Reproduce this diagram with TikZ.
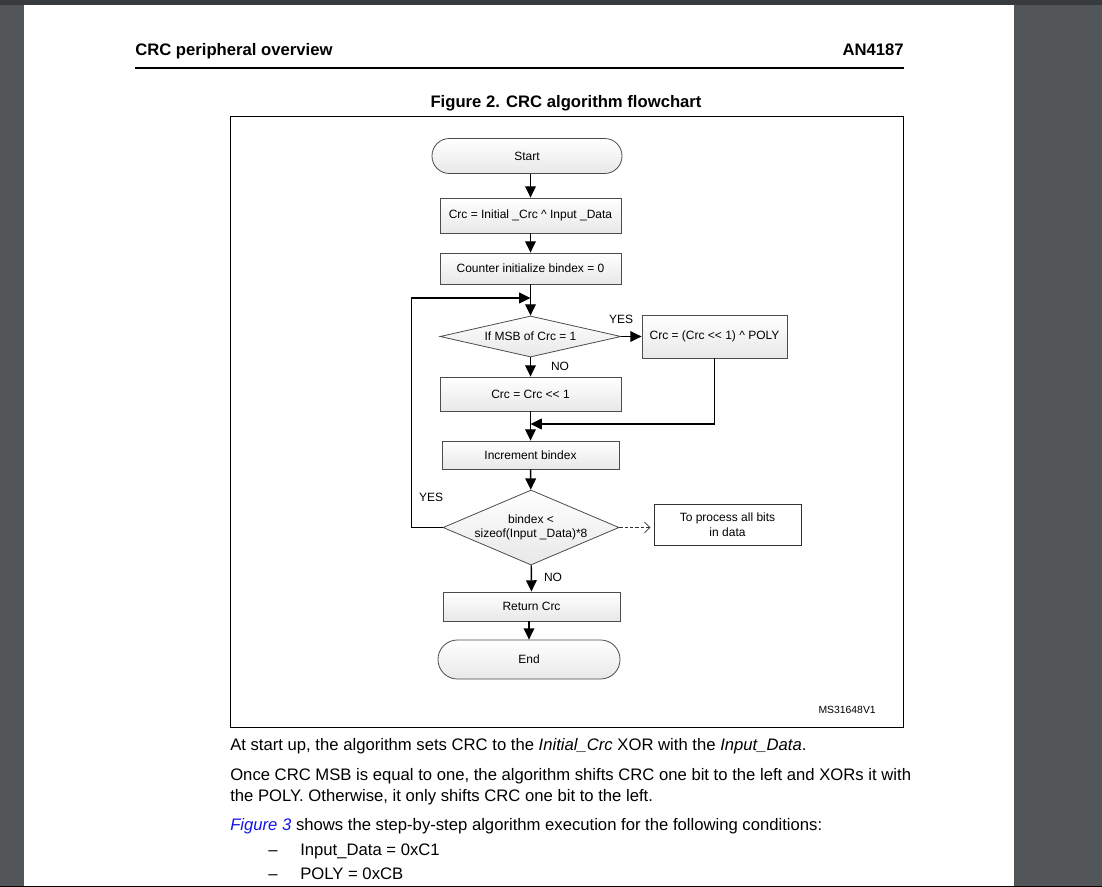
\documentclass[tikz,border=0pt]{standalone}
\usepackage{fontspec}
\setmainfont{Liberation Sans}
\usetikzlibrary{shapes.geometric,arrows.meta}
\definecolor{viewer}{RGB}{82,86,89}
\definecolor{viewertop}{RGB}{56,59,62}
\definecolor{stlink}{RGB}{20,20,235}
\tikzset{
  box/.style={draw=black!70, line width=0.6pt, top color=white, bottom color=black!9,
    inner sep=0pt, align=center, font=\fontsize{9}{11}\selectfont},
  term/.style={box, rounded corners=13pt},
  decision/.style={box, diamond, shape aspect=#1},
  note/.style={draw=black!80, line width=0.6pt, fill=white, inner sep=0pt, align=center,
    font=\fontsize{9}{11}\selectfont},
  lbl/.style={inner sep=0pt, font=\fontsize{9}{11}\selectfont},
  arr/.style={line width=1.1pt, -{Triangle[length=8.5pt,width=8pt]}},
  dasharr/.style={line width=0.6pt, dashed, dash pattern=on 2.5pt off 1.5pt, draw=black!80,
    -{Straight Barb[length=4pt,width=8pt]}},
  body/.style={inner sep=0pt, anchor=base west, font=\fontsize{12.5}{15}\selectfont},
  head/.style={inner sep=0pt, font=\fontsize{12.5}{15}\selectfont\bfseries}
}
\begin{document}
\begin{tikzpicture}[x=0.75pt,y=-0.75pt]
\useasboundingbox (0,0) rectangle (1102,887);
\fill[viewer] (0,0) rectangle (1102,887);
\fill[viewertop] (0,0) rectangle (1102,5);
\fill[white] (24,5) rectangle (1014,887);
\draw[black, line width=0.8pt] (0,886.5) -- (1102,886.5);

\node[head, anchor=base west] (hdl) at (135,56) {CRC peripheral overview};
\node[head, anchor=base east] (hdr) at (904,56) {AN4187};
\draw[line width=0.8pt] (135,68) -- (904,68);
\node[head, anchor=base] (title) at (566,108) {Figure 2. CRC algorithm flowchart};
\draw[line width=0.7pt] (230,116) rectangle (903,727);

\node[term, minimum width=142.5pt, minimum height=26.25pt] (start) at (527,156) {Start};
\node[box, minimum width=135.75pt, minimum height=26.25pt] (init) at (530.5,215.5) {Crc = Initial \_Crc \textasciicircum{} Input \_Data};
\node[box, minimum width=135.75pt, minimum height=23.25pt] (cnt) at (530.5,268.5) {Counter initialize bindex = 0};
\coordinate (join) at (530.5,298);
\node[decision=4.4, minimum width=135.75pt, minimum height=30.75pt] (msb) at (530.5,336.5) {If MSB of Crc = 1};
\node[box, minimum width=108.75pt, minimum height=32.25pt] (poly) at (714.5,336.5) {Crc = (Crc <{}< 1) \textasciicircum{} POLY};
\node[box, minimum width=135.75pt, minimum height=25.5pt] (shl) at (530.5,394) {Crc = Crc <{}< 1};
\coordinate (merge) at (530.5,424);
\node[box, minimum width=132.75pt, minimum height=21pt] (inc) at (530.5,455) {Increment bindex};
\node[decision=2.35, minimum width=132pt, minimum height=56.25pt] (cmp) at (531,527.5) {bindex <\\sizeof(Input \_Data)*8};
\node[note, minimum width=110.25pt, minimum height=30.75pt] (bits) at (727.5,524.5) {To process all bits\\in data};
\node[box, minimum width=132.75pt, minimum height=21.75pt] (ret) at (531.5,606.5) {Return Crc};
\node[term, rounded corners=14.5pt, minimum width=136.5pt, minimum height=29.25pt] (stop) at (529,659.5) {End};

\node[lbl] (yes1) at (621,319) {YES};
\node[lbl] (no1) at (560,366) {NO};
\node[lbl] (yes2) at (431,497) {YES};
\node[lbl] (no2) at (553,577) {NO};
\node[inner sep=0pt, anchor=base east, font=\fontsize{7.8}{9}\selectfont] (ref) at (876,713) {MS31648V1};

\draw[arr] (start.south -| init.north) -- (init.north);
\draw[arr] (init) -- (cnt);
\draw[arr] (cnt) -- (msb);
\draw[arr] (msb) -- (poly);
\draw[arr] (msb) -- (shl);
\draw[arr] (shl) -- (inc);
\draw[arr] (poly.south) |- (merge);
\draw[arr] (inc) -- (cmp);
\draw[arr] (cmp.west) -- ++(-31,0) |- (join);
\draw[dasharr] (cmp.east) -- ++(31,0);
\draw[arr] (cmp) -- (ret);
\draw[arr] (ret.south -| stop.north) -- (stop.north);

\node[body] (p1) at (230,750) {At start up, the algorithm sets CRC to the \textit{Initial\_Crc} XOR with the \textit{Input\_Data}.};
\node[body] (p2) at (230,780) {Once CRC MSB is equal to one, the algorithm shifts CRC one bit to the left and XORs it with};
\node[body] (p3) at (230,801) {the POLY. Otherwise, it only shifts CRC one bit to the left.};
\node[body] (p4) at (230,830) {\textcolor{stlink}{\textit{Figure 3}} shows the step-by-step algorithm execution for the following conditions:};
\node[body] (d1) at (268,855) {–};
\node[body] (c1) at (300,855) {Input\_Data = 0xC1};
\node[body] (d2) at (268,879) {–};
\node[body] (c2) at (300,879) {POLY = 0xCB};
\end{tikzpicture}
\end{document}
